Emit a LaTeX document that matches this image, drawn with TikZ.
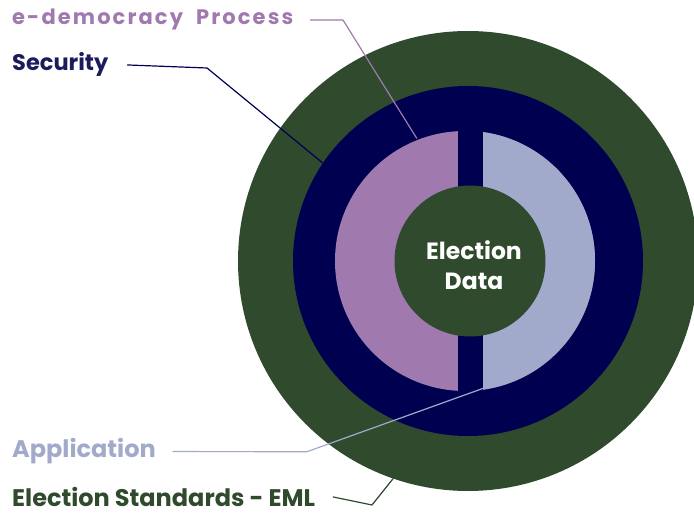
\documentclass[tikz,border=0pt]{standalone}
\usepackage{fontspec}
\setmainfont{Poppins}
\newfontfamily\spacedfont[LetterSpace=10]{Poppins}
\usepackage{tikz}
\definecolor{ink}{HTML}{1C1C5C}
\definecolor{stdgreen}{HTML}{2F4A2D}
\definecolor{secnavy}{HTML}{000050}
\definecolor{procpurple}{HTML}{A07AAF}
\definecolor{appblue}{HTML}{A2AACC}
\usetikzlibrary{
  arrows.meta,
  positioning,
  calc
}
\newcommand{\lblsize}[1]{\bfseries\fontsize{#1}{#1}\selectfont}
\tikzset{
  every picture/.style={line cap=round, line join=round},
  ring/.style={circle, draw=none, inner sep=0pt},
  lbl/.style={anchor=base west, inner sep=0pt},
  lead/.style={line width=1.2pt}
}
\begin{document}
\begin{tikzpicture}[x=1pt, y=1pt]
  \clip (0,0) rectangle (694,514);

  % rings, outside in
  \node[ring, fill=stdgreen, minimum size=460] (std) at (468,253) {};
  \node[ring, fill=secnavy, minimum size=350] (sec) at (468,253) {};
  \node[ring, fill=procpurple, minimum size=260] (core) at (465,253) {};
  \fill[appblue] (core.north) arc[start angle=90, end angle=-90, radius=130] -- cycle;
  \fill[secnavy] (458,113) rectangle (483,393);
  \node[ring, fill=stdgreen, minimum size=151] (dataRing) at (470,253) {};
  \node[text=white, align=center, font=\bfseries\fontsize{23.5}{30}\selectfont]
    (data) at (474,249) {Election\\Data};

  % labels
  \node[lbl, text=procpurple, font=\spacedfont\lblsize{21}] (procL) at (12,489) {e-democracy\ \ Process};
  \node[lbl, text=ink, font=\lblsize{22.5}] (secL) at (12,443) {Security};
  \node[lbl, text=appblue, font=\lblsize{24}] (appL) at (12,56) {Application};
  \node[lbl, text=stdgreen, font=\lblsize{24}] (stdL) at (12,7.5) {Election Standards - EML};

  \coordinate (procEnd) at (416.7,375.7);
  \coordinate (appEnd) at (483.3,125.7);

  \draw[lead, procpurple] ([xshift=17pt]procL.east) -- (343,494) -- (procEnd);
  \draw[lead, secnavy] ([xshift=19pt]secL.east) -- (207,446) -- (sec.146);
  \draw[lead, appblue] ([xshift=17pt]appL.east) -- (307,62.3) -- (appEnd);
  \draw[lead, stdgreen] ([xshift=18pt]stdL.east) -- (372,9) -- (std.251);
\end{tikzpicture}
\end{document}
